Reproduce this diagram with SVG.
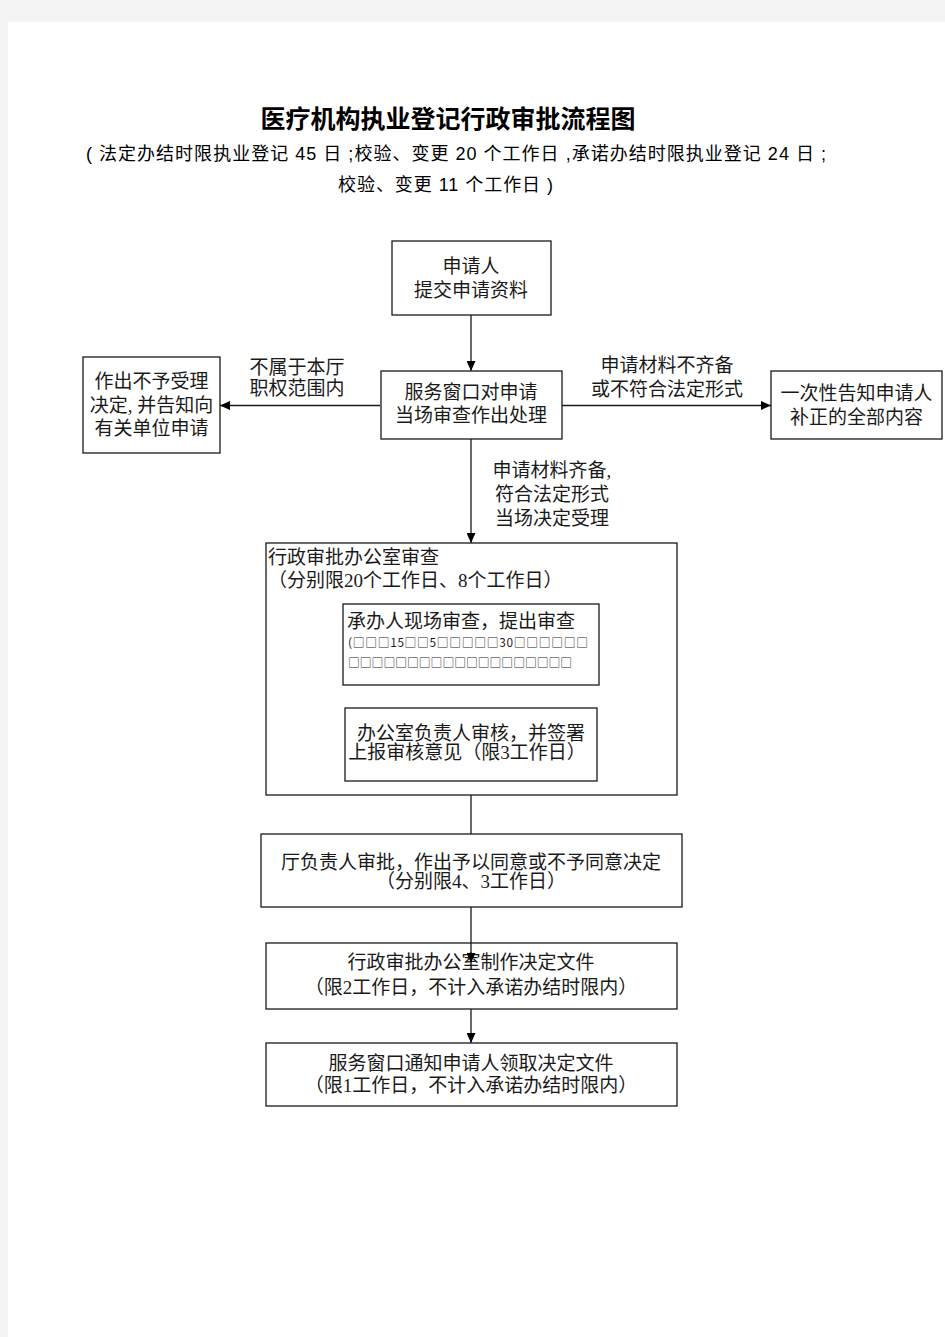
<svg xmlns="http://www.w3.org/2000/svg" width="945" height="1337" viewBox="0 0 945 1337">
<defs>
<style>
.box{fill:#fff;stroke:#1a1a1a;stroke-width:1.3}
.t{font-family:"Liberation Serif","Noto Sans CJK SC",serif;font-size:19px;fill:#1a1a1a}
.c{text-anchor:middle}
.tofu{font-family:"Noto Sans CJK SC",sans-serif;font-size:11.8px;fill:#1a1a1a}
.hd{font-family:"Liberation Sans","Noto Sans CJK SC",sans-serif;fill:#000}
.ln{fill:none;stroke:#1a1a1a;stroke-width:1.3}
</style>
<marker id="ah" markerUnits="userSpaceOnUse" markerWidth="10" markerHeight="9" refX="10" refY="4.5" orient="auto">
<path d="M0,0 L10,4.5 L0,9 z" fill="#000"/>
</marker>
</defs>
<rect x="0" y="0" width="945" height="1337" fill="#f4f4f4"/>
<rect x="8" y="22" width="937" height="1315" fill="#fff"/>

<g id="title">
<text class="hd" x="448" y="128" text-anchor="middle" font-size="25" font-weight="bold">医疗机构执业登记行政审批流程图</text>
<text class="hd" x="86" y="160" font-size="18" textLength="740" lengthAdjust="spacing">( 法定办结时限执业登记 45 日 ;校验、变更 20 个工作日 ,承诺办结时限执业登记 24 日 ;</text>
<text class="hd" x="338" y="191" font-size="18" textLength="215" lengthAdjust="spacing">校验、变更 11 个工作日 )</text>
</g>

<g id="connectors">
<line class="ln" x1="471" y1="315" x2="471" y2="371" marker-end="url(#ah)"/>
<line class="ln" x1="380" y1="405.5" x2="220" y2="405.5" marker-end="url(#ah)"/>
<line class="ln" x1="562" y1="405.5" x2="771" y2="405.5" marker-end="url(#ah)"/>
<line class="ln" x1="471" y1="439" x2="471" y2="543" marker-end="url(#ah)"/>
<line class="ln" x1="471" y1="685" x2="471" y2="708" marker-end="url(#ah)"/>
<line class="ln" x1="471" y1="795" x2="471" y2="834"/>
<line class="ln" x1="471" y1="1009" x2="471" y2="1043" marker-end="url(#ah)"/>
<text class="t c" x="297" y="374">不属于本厅</text>
<text class="t c" x="297" y="395">职权范围内</text>
<text class="t c" x="667" y="372">申请材料不齐备</text>
<text class="t c" x="667" y="396">或不符合法定形式</text>
<text class="t c" x="552" y="477">申请材料齐备,</text>
<text class="t c" x="552" y="501">符合法定形式</text>
<text class="t c" x="552" y="525">当场决定受理</text>
</g>

<g id="n-submit">
<rect class="box" x="392" y="241" width="159" height="74"/>
<text class="t c" x="471" y="273">申请人</text>
<text class="t c" x="471" y="297">提交申请资料</text>
</g>

<g id="n-window">
<rect class="box" x="381" y="371" width="181" height="68"/>
<text class="t c" x="471" y="399">服务窗口对申请</text>
<text class="t c" x="471" y="422">当场审查作出处理</text>
</g>

<g id="n-reject">
<rect class="box" x="83" y="357" width="137" height="96"/>
<text class="t c" x="151.5" y="388">作出不予受理</text>
<text class="t c" x="151.5" y="412">决定, 并告知向</text>
<text class="t c" x="151.5" y="435">有关单位申请</text>
</g>

<g id="n-notify">
<rect class="box" x="771" y="371" width="171" height="68"/>
<text class="t c" x="856.5" y="400">一次性告知申请人</text>
<text class="t c" x="856.5" y="424">补正的全部内容</text>
</g>

<g id="n-office">
<rect class="box" x="266" y="543" width="411" height="252"/>
<text class="t" x="268" y="564">行政审批办公室审查</text>
<text class="t" x="268" y="587">（分别限20个工作日、8个工作日）</text>
</g>

<g id="n-handler">
<rect class="box" x="343" y="604" width="256" height="81"/>
<text class="t" x="347" y="628">承办人现场审查，提出审查</text>
<text class="tofu" x="348" y="647" textLength="240" lengthAdjust="spacing">(□□□15□□5□□□□□30□□□□□□</text>
<text class="tofu" x="348" y="667">□□□□□□□□□□□□□□□□□□□</text>
</g>

<g id="n-head">
<rect class="box" x="345" y="708" width="252" height="73"/>
<text class="t c" x="471" y="740">办公室负责人审核，并签署</text>
<text class="t c" x="467" y="759">上报审核意见（限3工作日）</text>
</g>

<g id="n-approve">
<rect class="box" x="261" y="834" width="421" height="73"/>
<text class="t c" x="471" y="869">厅负责人审批，作出予以同意或不予同意决定</text>
<text class="t c" x="471" y="888">（分别限4、3工作日）</text>
</g>

<g id="n-document">
<rect class="box" x="266" y="943" width="411" height="66"/>
<text class="t c" x="471" y="969">行政审批办公室制作决定文件</text>
<text class="t c" x="471" y="994">（限2工作日，不计入承诺办结时限内）</text>
</g>

<g id="n-collect">
<rect class="box" x="266" y="1043" width="411" height="63"/>
<text class="t c" x="471" y="1070">服务窗口通知申请人领取决定文件</text>
<text class="t c" x="471" y="1092">（限1工作日，不计入承诺办结时限内）</text>
</g>

<g id="connectors-over">
<line class="ln" x1="471" y1="907" x2="471" y2="963" marker-end="url(#ah)"/>
</g>
</svg>
